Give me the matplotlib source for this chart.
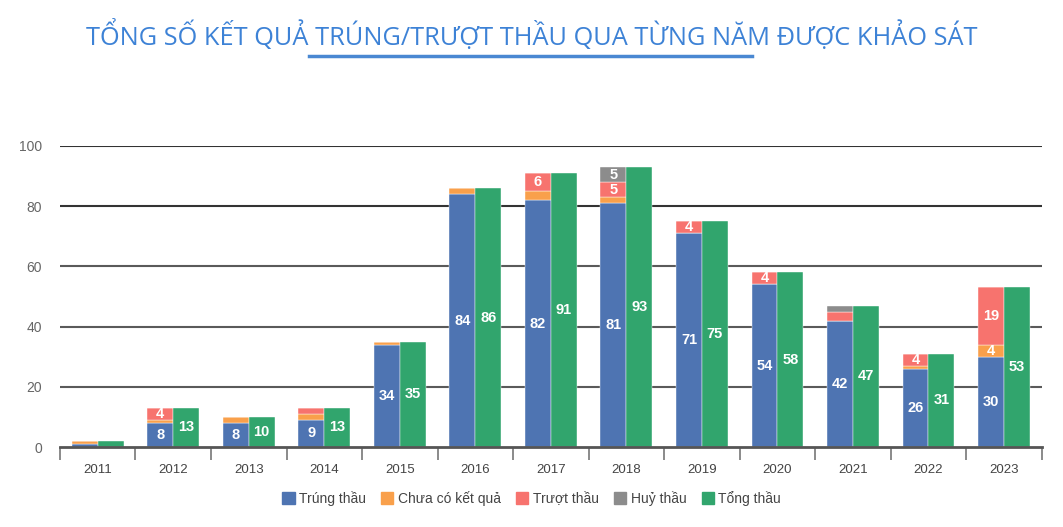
import matplotlib.pyplot as plt
import numpy as np
from matplotlib.patches import Patch
from matplotlib.lines import Line2D

plt.rcParams['font.family'] = ['Liberation Sans', 'DejaVu Sans']

# Data
years = ['2011', '2012', '2013', '2014', '2015', '2016', '2017',
         '2018', '2019', '2020', '2021', '2022', '2023']
trung_thau = [1, 8, 8, 9, 34, 84, 82, 81, 71, 54, 42, 26, 30]
chua_co_kq = [1, 1, 2, 2, 1, 2, 3, 2, 0, 0, 0, 1, 4]
truot_thau = [0, 4, 0, 2, 0, 0, 6, 5, 4, 4, 3, 4, 19]
huy_thau = [0, 0, 0, 0, 0, 0, 0, 5, 0, 0, 2, 0, 0]
tong_thau = [2, 13, 10, 13, 35, 86, 91, 93, 75, 58, 47, 31, 53]

series = [("Trúng thầu", trung_thau, '#4E74B2'),
          ("Chưa có kết quả", chua_co_kq, '#F9A04B'),
          ("Trượt thầu", truot_thau, '#F7736E'),
          ("Huỷ thầu", huy_thau, '#8C8C8C')]
total_color = '#31A56D'

fig = plt.figure(figsize=(10.63, 5.27), dpi=100)
ax = fig.add_axes([0.0564, 0.1518, 0.9236, 0.5712])

x = np.arange(len(years))
w = 0.343

# stacked bars (left) + total (right)
bottom = np.zeros(len(years))
for name, vals, col in series:
    vals = np.array(vals)
    ax.bar(x - w / 2, vals, w, bottom=bottom, color=col, zorder=3,
           edgecolor='white', linewidth=0.3)
    for xi, b, v in zip(x, bottom, vals):
        if v >= 4:
            ax.text(xi - w / 2, b + v / 2, str(v), ha='center', va='center',
                    color='white', fontsize=10.5, fontweight='bold', zorder=4)
    bottom = bottom + vals

ax.bar(x + w / 2, tong_thau, w, color=total_color, zorder=3,
       edgecolor='white', linewidth=0.3)
for xi, v in zip(x, tong_thau):
    if v >= 4:
        ax.text(xi + w / 2, v / 2, str(v), ha='center', va='center',
                color='white', fontsize=10.5, fontweight='bold', zorder=4)

ax.set_xlim(-0.5, len(years) - 0.5)
ax.set_ylim(0, 100)

# grid lines
for yv in [20, 40, 60, 80, 100]:
    ax.axhline(yv, color='#333333' if yv in (80, 100) else '#5a5a5a',
               linewidth=1.5, zorder=1)

for s in ['top', 'right', 'left']:
    ax.spines[s].set_visible(False)
ax.spines['bottom'].set_color('#555555')
ax.spines['bottom'].set_linewidth(2)
ax.spines['bottom'].set_zorder(5)

ax.set_yticks([0, 20, 40, 60, 80, 100])
ax.tick_params(axis='y', length=0, labelsize=10, labelcolor='#666666', pad=13)

ax.set_xticks(x)
ax.set_xticklabels(years)
ax.tick_params(axis='x', length=0, labelsize=9.5, labelcolor='#444444', pad=12)
ax.set_xticks(np.arange(-0.5, len(years)), minor=True)
ax.tick_params(axis='x', which='minor', length=9, width=1.2, color='#777777')

# title with underline
fig.text(0.5, 0.933, "TỔNG SỐ KẾT QUẢ TRÚNG/TRƯỢT THẦU QUA TỪNG NĂM ĐƯỢC KHẢO SÁT",
         ha='center', va='center', fontsize=18.3, color='#3D82D6',
         family=['Open Sans', 'DejaVu Sans'])
fig.add_artist(Line2D([309 / 1063, 752 / 1063], [1 - 56 / 527, 1 - 56 / 527],
                      color='#4A88D2', linewidth=2.5))

# legend
handles = [Patch(facecolor=c, edgecolor=c, label=n) for n, _, c in series]
handles.append(Patch(facecolor=total_color, edgecolor=total_color, label="Tổng thầu"))
fig.legend(handles=handles, loc='center', bbox_to_anchor=(0.5, 0.054), ncol=5,
           frameon=False, fontsize=10, handlelength=0.9, handleheight=0.9,
           handletextpad=0.3, columnspacing=1.1, labelcolor='#444444')

plt.savefig("out.png", dpi=100)
